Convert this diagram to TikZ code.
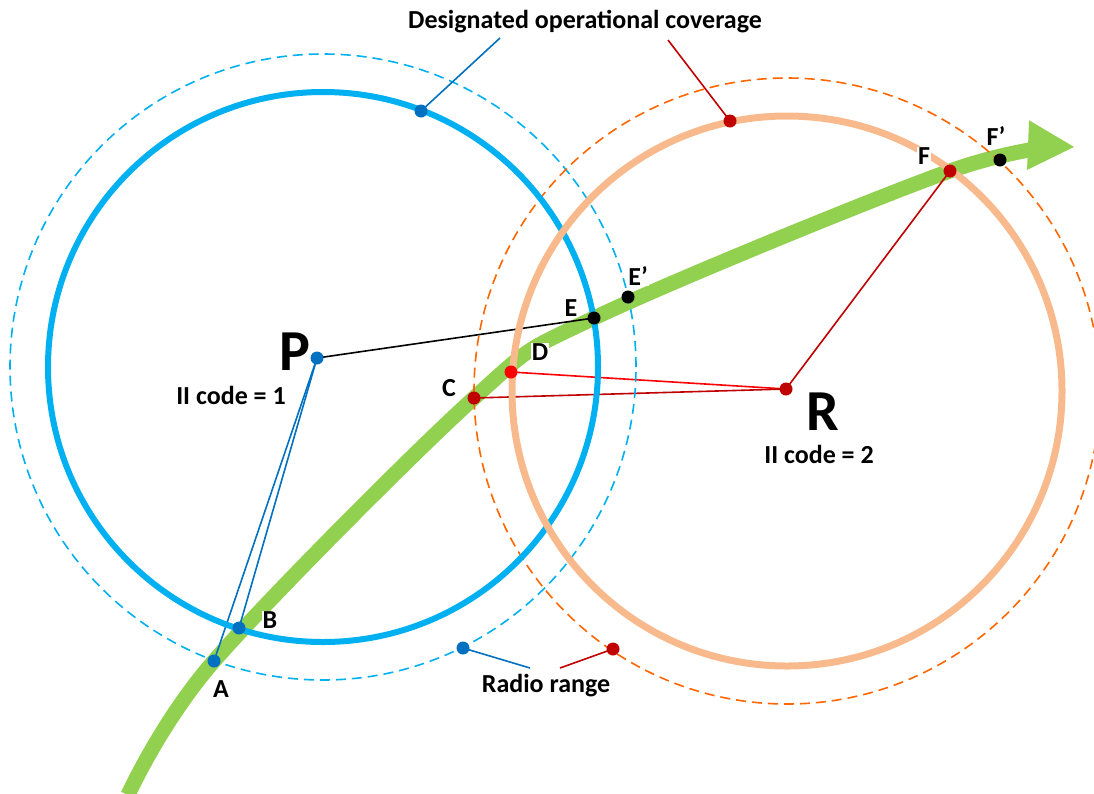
\documentclass[tikz,border=0pt]{standalone}
\usepackage{fontspec}
\setmainfont{Carlito}
\usetikzlibrary{arrows.meta}
\definecolor{opblue}{RGB}{0,176,240}
\definecolor{dotblue}{RGB}{0,112,192}
\definecolor{opsalmon}{RGB}{248,186,140}
\definecolor{rngorange}{RGB}{255,102,0}
\definecolor{darkred}{RGB}{192,0,0}
\definecolor{trackgreen}{RGB}{146,208,80}
\tikzset{
  lbl/.style={font=\fontsize{26}{30}\selectfont\bfseries, inner sep=1pt, fill=white},
  big/.style={font=\fontsize{58}{60}\selectfont\bfseries, inner sep=0pt},
  rng/.style={line width=1.6pt, dash pattern=on 10pt off 6pt},
  cov/.style={line width=6pt},
  thin/.style={line width=1.6pt}
}
\begin{document}
\begin{tikzpicture}[x=1pt,y=-1pt]
      \useasboundingbox (0,0) rectangle (1094,793);
      \coordinate (P) at (317,358);
      \coordinate (R) at (786,389);
      \coordinate (Pc) at (323,367);
      \coordinate (Rc) at (787,391);
      \coordinate (A) at (214,661);
      \coordinate (B) at (239,628);
      \coordinate (C) at (474,398);
      \coordinate (D) at (511,372);
      \coordinate (E) at (594,318);
      \coordinate (E2) at (628,297);
      \coordinate (F) at (950,171);
      \coordinate (F2) at (1000,160);
      \coordinate (Ptop) at (421,111);
      \coordinate (Rtop) at (730,121);
      \coordinate (Pbot) at (463,648);
      \coordinate (Rbot) at (613,649);
      \coordinate (covL) at (500,38);
      \coordinate (covR) at (668,40);
      \coordinate (rngL) at (530,668);
      \coordinate (rngR) at (560,668);

      % track
      \draw[trackgreen, line width=15pt, -{Triangle[length=47pt,width=46pt]}]
        plot[smooth, tension=0.55] coordinates {(128,795) (A) (C) (E) (F) (1075,147)};

      % distances
      \draw[thin, dotblue] (P)--(A);
      \draw[thin, dotblue] (P)--(B);
      \draw[thin] (P)--(E);
      \draw[thin, red] (R)--(D);
      \draw[thin, darkred] (R)--(C);
      \draw[thin, darkred] (R)--(F);

      % ranges
      \draw[rng, opblue] (Pc) circle (313pt);
      \draw[rng, rngorange] (Rc) circle (313pt);
      \draw[cov, opblue] (Pc) circle (275pt);
      \draw[line width=7pt, opsalmon] (Rc) circle (275pt);

      % leaders
      \node[font=\fontsize{26}{30}\selectfont\bfseries, inner sep=1pt] (covtxt) at (585,22) {Designated operational coverage};
      \node[font=\fontsize{26}{30}\selectfont\bfseries, inner sep=1pt] (rngtxt) at (546,686) {Radio range};
      \draw[thin, dotblue] (Ptop)--(covL);
      \draw[thin, darkred] (Rtop)--(covR);
      \draw[thin, dotblue] (Pbot)--(rngL);
      \draw[thin, darkred] (Rbot)--(rngR);

      \node[lbl] (lA) at (221,689) {A};
      \node[lbl] (lB) at (270,620) {B};
      \node[lbl] (lC) at (449,388) {C};
      \node[lbl] (lD) at (540,352) {D};
      \node[lbl] (lE) at (571,308) {E};
      \node[lbl] (lE2) at (638,276) {E’};
      \node[lbl] (lF) at (924,156) {F};
      \node[lbl] (lF2) at (996,136) {F’};
      \node[big] (lP) at (295,352) {P};
      \node[font=\fontsize{26}{30}\selectfont\bfseries] (codeP) at (231,395) {II code = 1};
      \node[big] (lR) at (823,412) {R};
      \node[font=\fontsize{26}{30}\selectfont\bfseries] (codeR) at (819,454) {II code = 2};

      \fill[dotblue] (P) circle (6.5pt);
      \fill[dotblue] (A) circle (6.5pt);
      \fill[dotblue] (B) circle (6.5pt);
      \fill[dotblue] (Ptop) circle (6.5pt);
      \fill[dotblue] (Pbot) circle (6.5pt);
      \fill[darkred] (R) circle (6.5pt);
      \fill[darkred] (C) circle (6.5pt);
      \fill[red] (D) circle (6.5pt);
      \fill[darkred] (F) circle (6.5pt);
      \fill[darkred] (Rtop) circle (6.5pt);
      \fill[darkred] (Rbot) circle (6.5pt);
      \fill (E) circle (6.5pt);
      \fill (E2) circle (6.5pt);
      \fill (F2) circle (6.5pt);
\end{tikzpicture}
\end{document}
